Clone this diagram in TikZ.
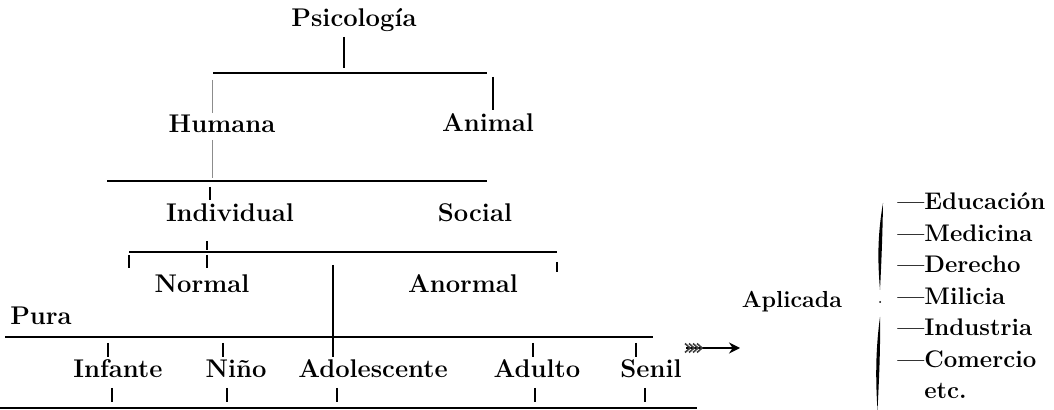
\documentclass[tikz,border=0pt]{standalone}
\usetikzlibrary{arrows.meta}
\begin{document}
\begin{tikzpicture}[x=0.5pt,y=-0.5pt,
  lbl/.style={anchor=base,inner sep=0pt,font=\fontsize{12.8}{15}\selectfont\bfseries},
  itm/.style={anchor=base west,inner sep=0pt,font=\fontsize{12}{14}\selectfont\bfseries},
  bar/.style={line width=1pt},
  tick/.style={line width=0.6pt},
  faint/.style={line width=0.4pt,black!45}]
\useasboundingbox (0,0) rectangle (1054,410);
% labels
\node[lbl] (psi) at (354,27) {Psicología};
\node[lbl] (hum) at (222,133) {Humana};
\node[lbl] (ani) at (488,132) {Animal};
\node[lbl] (ind) at (230,222) {Individual};
\node[lbl] (soc) at (475,222) {Social};
\node[lbl] (nor) at (202,293) {Normal};
\node[lbl] (ano) at (463,293) {Anormal};
\node[lbl] (pura) at (41,325) {Pura};
\node[lbl,font=\fontsize{11.6}{13}\selectfont\bfseries] (apl) at (792,308) {Aplicada};
\node[lbl] (inf) at (118,378) {Infante};
\node[lbl] (nin) at (236,378) {Niño};
\node[lbl] (ado) at (373,378) {Adolescente};
\node[lbl] (adu) at (537,378) {Adulto};
\node[lbl] (sen) at (651,378) {Senil};
\node[itm] (l1) at (897,210) {---Educación};
\node[itm] (l2) at (897,241.5) {---Medicina};
\node[itm] (l3) at (897,273) {---Derecho};
\node[itm] (l4) at (897,304.5) {---Milicia};
\node[itm] (l5) at (897,336) {---Industria};
\node[itm] (l6) at (897,367.5) {---Comercio};
\node[itm] (l7) at (924,399) {etc.};
% coordinates
\coordinate (b1l) at (213,73); \coordinate (b1r) at (487,73);
\coordinate (b2l) at (107,181); \coordinate (b2r) at (487,181);
\coordinate (b3l) at (129,252); \coordinate (b3r) at (557,252);
\coordinate (b4l) at (5,337); \coordinate (b4r) at (653,337);
\coordinate (b5l) at (0,408.5); \coordinate (b5r) at (697,408.5);
\coordinate (t1a) at (344,37); \coordinate (t1b) at (344,68);
\coordinate (t2a) at (212,80); \coordinate (t2b) at (212,113);
\coordinate (t3a) at (493,77); \coordinate (t3b) at (493,110);
\coordinate (t4a) at (212,140); \coordinate (t4b) at (212,178);
\coordinate (t5a) at (210,187); \coordinate (t5b) at (210,200);
\coordinate (t6a) at (207,241); \coordinate (t6b) at (207,250);
\coordinate (t7a) at (129,255); \coordinate (t7b) at (129,268);
\coordinate (t8a) at (207,255); \coordinate (t8b) at (207,268);
\coordinate (t9a) at (557,262); \coordinate (t9b) at (557,272);
\coordinate (va) at (333,265); \coordinate (vb) at (333,357);
% bars
\draw[bar] (b1l) -- (b1r);
\draw[bar] (b2l) -- (b2r);
\draw[bar] (b3l) -- (b3r);
\draw[bar] (b4l) -- (b4r);
\draw[bar] (b5l) -- (b5r);
% ticks
\draw[tick] (t1a) -- (t1b);
\draw[faint] (t2a) -- (t2b);
\draw[tick] (t3a) -- (t3b);
\draw[faint] (t4a) -- (t4b);
\draw[tick] (t5a) -- (t5b);
\draw[tick] (t6a) -- (t6b);
\draw[tick] (t7a) -- (t7b);
\draw[tick] (t8a) -- (t8b);
\draw[tick] (t9a) -- (t9b);
\draw[tick] (va) -- (vb);
\foreach \x/\n in {108/ua,223/ub,533/uc,636/ud}{
  \draw[tick] (\x,343) coordinate (\n1) -- (\x,357) coordinate (\n2);}
\foreach \x/\n in {112/da,227/db,337/dc,535/dd,645/de}{
  \draw[tick] (\x,388) coordinate (\n1) -- (\x,402) coordinate (\n2);}
% arrow
\coordinate (ar0) at (686,348); \coordinate (ar1) at (740,348);
\draw[line width=0.8pt,-{Stealth[length=5.5pt,width=5.5pt]}] (ar0) -- (ar1);
\foreach \x in {685,689,693,697}{
  \draw[line width=0.8pt,black!75] (\x,343.5) -- (\x+5,348) -- (\x,352.5);}
% brace
\fill (883,203) .. controls (877.5,235) and (877.5,260) .. (880,290)
      .. controls (881.5,260) and (882.5,235) .. (883,203) -- cycle;
\fill (880,317) .. controls (875.5,350) and (875.5,380) .. (877.5,410)
      .. controls (879,380) and (880.5,350) .. (880,317) -- cycle;
\fill (880,302) circle (1);
\end{tikzpicture}
\end{document}
